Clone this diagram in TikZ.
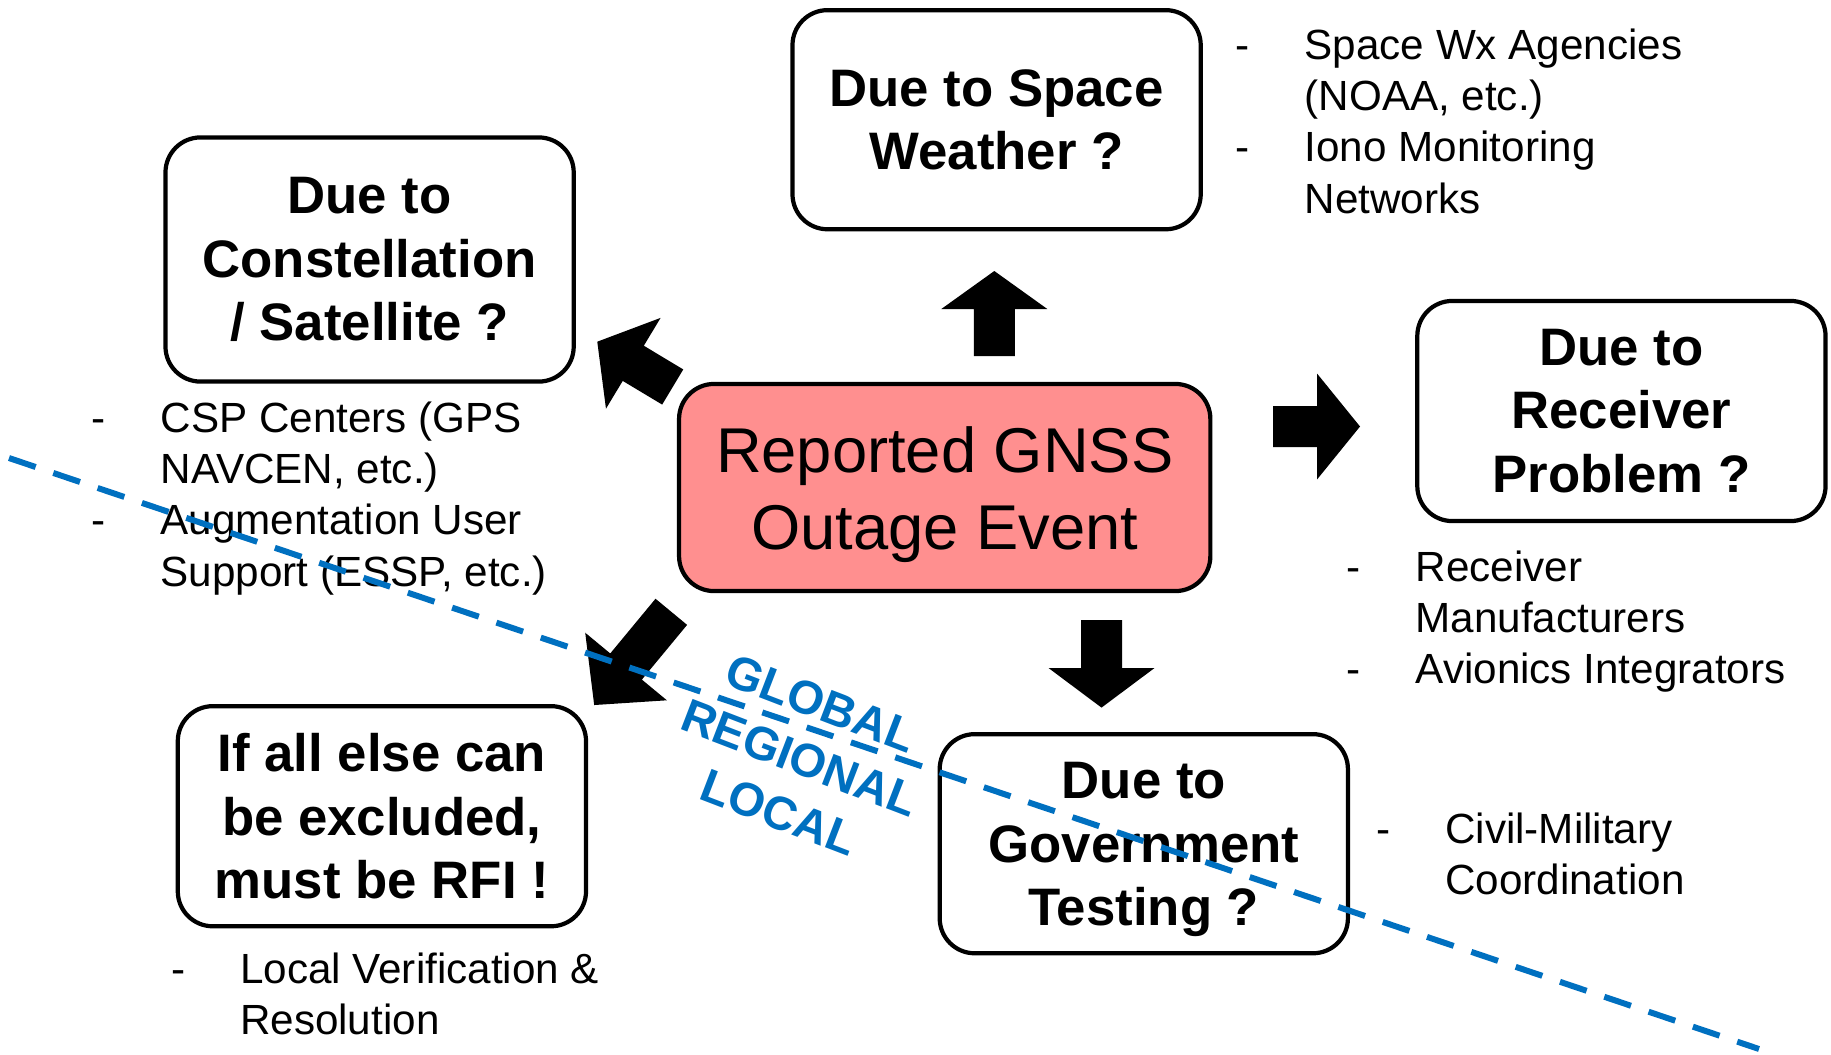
\documentclass[tikz,border=0pt]{standalone}
\usepackage{fontspec}
\setmainfont{Liberation Sans}
\definecolor{evfill}{RGB}{255,143,143}
\definecolor{scopeblue}{RGB}{0,112,192}
\newcommand{\blkarrow}[5]{% x, y, angle, length, head length
  \fill[black,shift={(#1,#2)},rotate=#3] (0,-20.5) -- ({#4-#5},-20.5) -- ({#4-#5},-53) -- (#4,0) -- ({#4-#5},53) -- ({#4-#5},20.5) -- (0,20.5) -- cycle;}
\begin{document}
\begin{tikzpicture}[x=0.01cm,y=-0.01cm,
  qbox/.style={draw=black,line width=1.2pt,rounded corners=0.35cm,fill=white,
    minimum width=4.08cm,align=center,inner sep=0pt,
    font=\fontsize{15}{18}\selectfont\bfseries},
  qtext/.style={align=center,inner sep=0pt,font=\fontsize{15}{18}\selectfont\bfseries},
  evbox/.style={draw=black,line width=1.2pt,rounded corners=0.35cm,fill=evfill,
    minimum width=5.31cm,minimum height=2.07cm,inner sep=0pt},
  evtext/.style={align=center,inner sep=0pt,font=\fontsize{18}{21.9}\selectfont},
  listtext/.style={anchor=base west,inner sep=0pt,font=\fontsize{12}{14.6}\selectfont},
  scopetext/.style={text=scopeblue,align=center,inner sep=0pt,rotate=-21,
    font=\fontsize{13.4}{16.6}\selectfont\bfseries},
  scopeline/.style={scopeblue,line width=1.7pt,dash pattern=on 8pt off 5.3pt}]
\useasboundingbox (0,0) rectangle (1831,1054);
\fill[white] (0,0) rectangle (1831,1054);

% boxes
\node[qbox,minimum height=2.19cm] (sw) at (996.6,119.7) {Due to Space\\Weather ?};
\node[qbox,minimum height=2.44cm] (cs) at (369.6,259.5) {Due to\\Constellation\\/ Satellite ?};
\node[qbox,minimum height=2.20cm] (rc) at (1621.4,411) {Due to\\Receiver\\Problem ?};
\node[qbox,minimum height=2.19cm] (gv) at (1143.8,843.7) {};
\node[qtext] (gvt) at (1143.8,849.5) {Due to\\Government\\Testing ?};
\node[qbox,minimum height=2.20cm] (rf) at (381.9,816.2) {If all else can\\be excluded,\\must be RFI !};
\node[evbox] (ev) at (944.7,487.5) {};
\node[evtext] (evt) at (944.7,495) {Reported GNSS\\Outage Event};

% block arrows
\blkarrow{994.3}{356}{90}{85}{38}
\blkarrow{1273}{426.5}{0}{87}{43}
\blkarrow{1101.5}{620}{-90}{87.6}{39.6}
\blkarrow{672.7}{387}{149}{88}{42}
\blkarrow{671.3}{611.8}{230.4}{121}{50}

% lists
\node[listtext] (lsw) at (1235,59) {\begin{tabular}[t]{@{}p{19.6pt}@{}l@{}}-&Space Wx Agencies\\&(NOAA, etc.)\\-&Iono Monitoring\\&Networks\end{tabular}};
\node[listtext] (lcs) at (91,432) {\begin{tabular}[t]{@{}p{19.6pt}@{}l@{}}-&CSP Centers (GPS\\&NAVCEN, etc.)\\-&Augmentation User\\&Support (ESSP, etc.)\end{tabular}};
\node[listtext] (lrc) at (1346,581) {\begin{tabular}[t]{@{}p{19.6pt}@{}l@{}}-&Receiver\\&Manufacturers\\-&Avionics Integrators\end{tabular}};
\node[listtext] (lgv) at (1375.6,843) {\begin{tabular}[t]{@{}p{19.6pt}@{}l@{}}-&Civil-Military\\&Coordination\end{tabular}};
\node[listtext] (lrf) at (170.5,983) {\begin{tabular}[t]{@{}p{19.6pt}@{}l@{}}-&Local Verification \&\\&Resolution\end{tabular}};

% scope labels
\node[scopetext] (scope) at (800,758) {GLOBAL\\REGIONAL\\LOCAL};

% dashed scope line, drawn over everything
\coordinate (d1) at (9,458);
\coordinate (d2) at (1759,1049);
\draw[scopeline] (d1) -- (d2);
\end{tikzpicture}
\end{document}
